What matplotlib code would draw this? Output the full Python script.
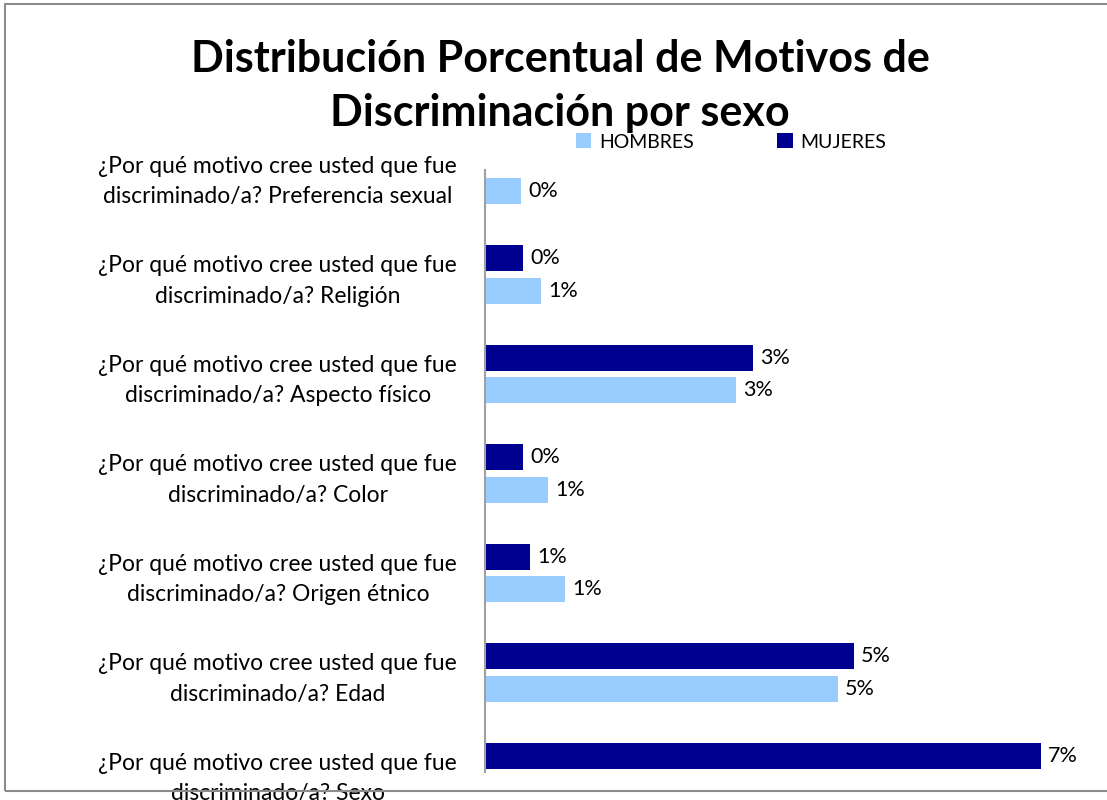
"""Distribución porcentual de motivos de discriminación por sexo."""

import matplotlib

matplotlib.use("Agg")
import matplotlib.pyplot as plt
from matplotlib.patches import Rectangle
import numpy as np

FONT = ["Lato", "DejaVu Sans"]

CATEGORIES = [
    "¿Por qué motivo cree usted que fue\ndiscriminado/a? Preferencia sexual",
    "¿Por qué motivo cree usted que fue\ndiscriminado/a? Religión",
    "¿Por qué motivo cree usted que fue\ndiscriminado/a? Aspecto físico",
    "¿Por qué motivo cree usted que fue\ndiscriminado/a? Color",
    "¿Por qué motivo cree usted que fue\ndiscriminado/a? Origen étnico",
    "¿Por qué motivo cree usted que fue\ndiscriminado/a? Edad",
    "¿Por qué motivo cree usted que fue\ndiscriminado/a? Sexo",
]
# percentages; None = no bar shown
HOMBRES = [0.46, 0.72, 3.21, 0.81, 1.02, 4.51, None]
MUJERES = [None, 0.49, 3.43, 0.49, 0.58, 4.72, 7.11]

HOMBRES_COLOR = "#99CCFF"
MUJERES_COLOR = "#000090"


def draw_bars(ax, positions, values, color, label):
    ys = [p for p, v in zip(positions, values) if v is not None]
    xs = [v for v in values if v is not None]
    ax.barh(ys, xs, height=0.26, color=color, label=label)
    for y, x in zip(ys, xs):
        ax.text(x + 0.09, y, f"{x:.0f}%", va="center", ha="left",
                fontsize=15.5, family=FONT, color="#000000")


def main():
    fig = plt.figure(figsize=(11.07, 8.0), dpi=100)
    fig.patches.append(Rectangle((5 / 1107, 9 / 800), 1.2, 787 / 800,
                                 transform=fig.transFigure, fill=False,
                                 edgecolor="#8c8c8c", linewidth=1.5))

    ax = fig.add_axes([485 / 1107, 28 / 800, 615 / 1107, 602 / 800])
    centers = np.arange(len(CATEGORIES))

    draw_bars(ax, centers + 0.165, HOMBRES, HOMBRES_COLOR, "HOMBRES")
    draw_bars(ax, centers - 0.165, MUJERES, MUJERES_COLOR, "MUJERES")

    ax.set_xlim(0, 615 / 78.2)
    ax.set_ylim(5.97, -0.05)
    ax.set_yticks(centers)
    ax.set_yticklabels(CATEGORIES, fontsize=16.5, family=FONT,
                       multialignment="center", linespacing=1.55)
    ax.tick_params(axis="y", length=0, pad=20)
    ax.set_xticks([])
    for side in ["top", "right", "bottom"]:
        ax.spines[side].set_visible(False)
    ax.spines["left"].set_color("#a0a0a0")
    ax.spines["left"].set_linewidth(1.5)

    fig.text(0.506, 1 - 86 / 800, "Distribución Porcentual de Motivos de\nDiscriminación por sexo",
             ha="center", va="center", fontsize=31, fontweight="bold",
             family=FONT, linespacing=1.45)

    handles, labels = ax.get_legend_handles_labels()
    fig.legend(handles, labels, loc="center", bbox_to_anchor=(731 / 1107, 1 - 142 / 800),
               ncol=2, frameon=False, prop={"family": FONT, "size": 14},
               handlelength=0.8, handleheight=0.8, columnspacing=4.3,
               handletextpad=0.4, borderaxespad=0)

    fig.savefig("out.png", dpi=100)
    plt.close(fig)


if __name__ == "__main__":
    main()
